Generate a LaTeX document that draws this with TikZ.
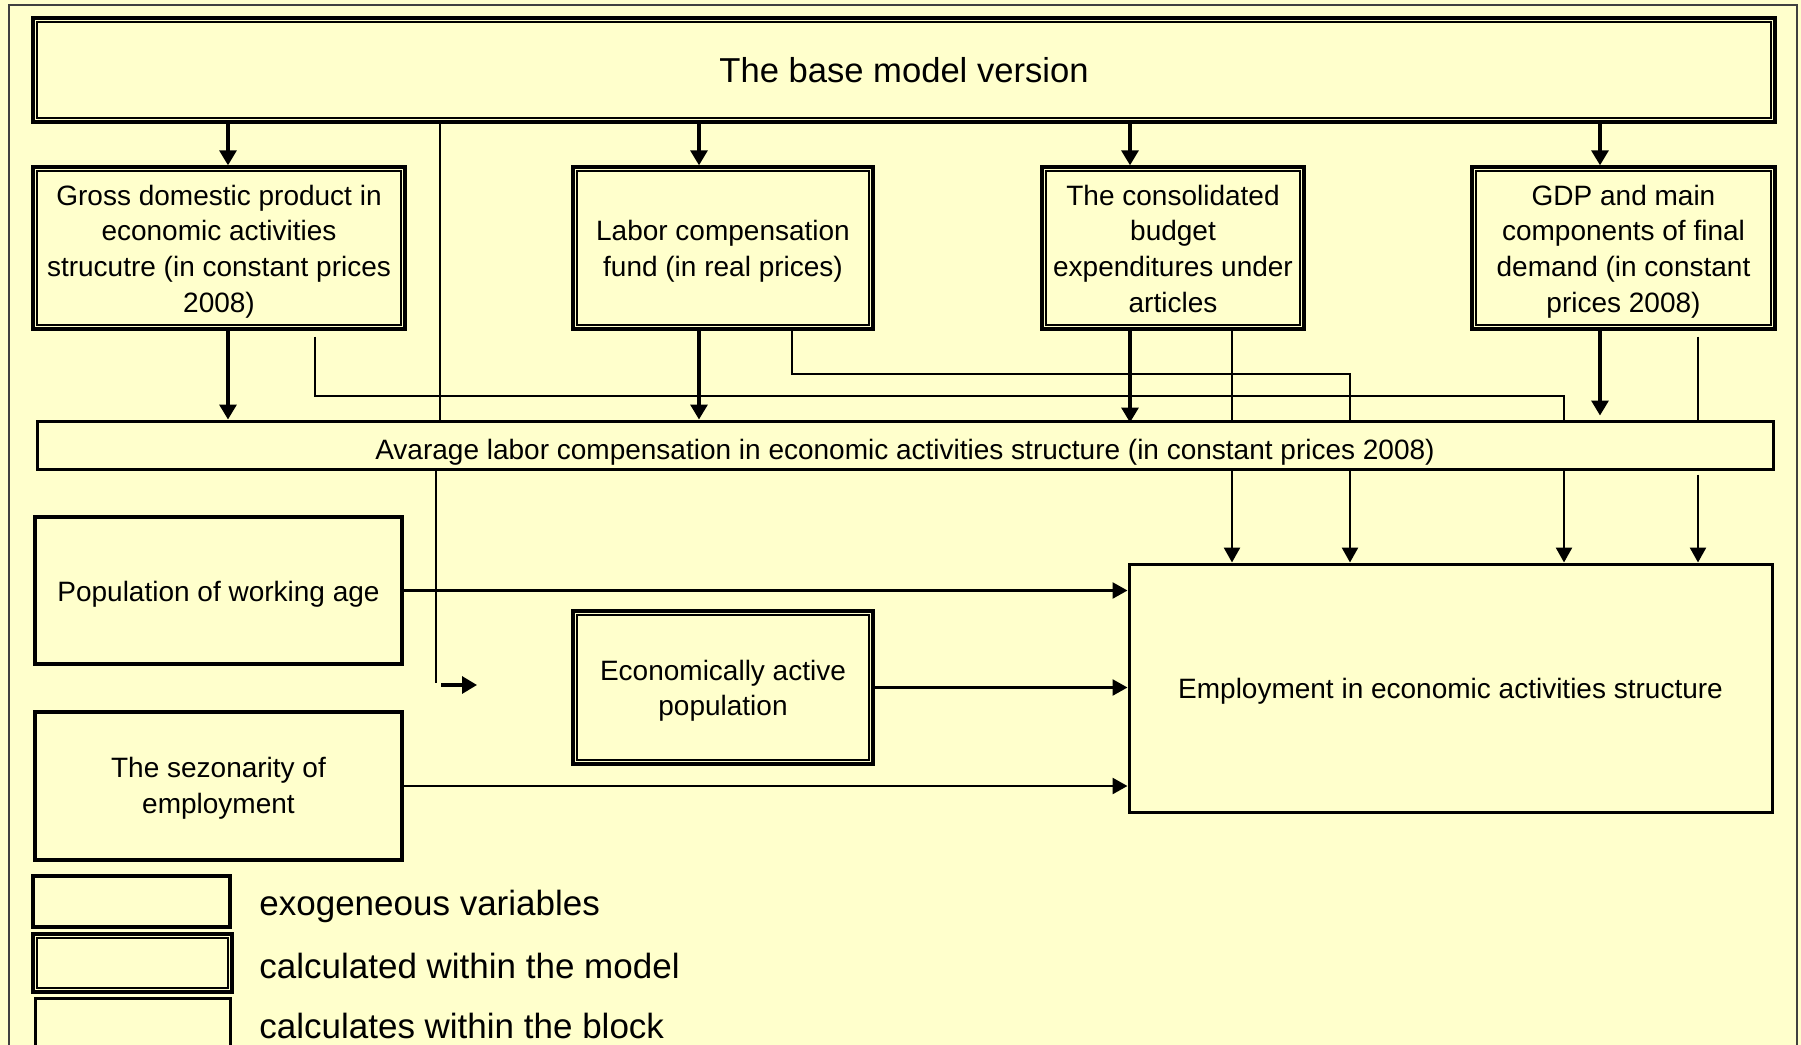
\documentclass[tikz,border=0pt]{standalone}
\usepackage{fontspec}
\setmainfont{Liberation Sans}
\usetikzlibrary{arrows.meta}
\definecolor{bgyellow}{RGB}{255,255,204}
\newcommand\boxfont{\fontsize{14}{17.8}\selectfont}
\newcommand\titlefont{\fontsize{17.3}{20}\selectfont}
\newcommand\legfont{\fontsize{17.5}{21}\selectfont}
\newcommand\lowtext[2]{\raisebox{-#1}[\height][\depth]{\begin{tabular}{@{}c@{}}#2\end{tabular}}}
\tikzset{
  basebox/.style={rectangle, inner sep=0pt, text=black, font=\boxfont},
  exobox/.style={basebox, draw, line width=2pt},
  calcbox/.style={basebox, draw, line width=1.7pt,
    path picture={\draw[line width=1.1pt]
      ([shift={(2pt,-2pt)}]path picture bounding box.north west) rectangle
      ([shift={(-2pt,2pt)}]path picture bounding box.south east);}},
  blockbox/.style={basebox, draw, line width=1.5pt},
  arr/.style={line width=1.6pt, -{Triangle[length=7.5pt,width=8.5pt]}},
  arrb/.style={line width=1.3pt, -{Triangle[length=7.5pt,width=8pt]}},
  link/.style={line width=1pt},
  legtext/.style={anchor=west, inner sep=0pt, font=\legfont},
}
\begin{document}
\begin{tikzpicture}[x=0.5pt,y=-0.5pt]
\useasboundingbox (0,0) rectangle (1801,1045);
\clip (0,0) rectangle (1801,1045);
\fill[bgyellow] (0,0) rectangle (1801,1045);
\draw[line width=1pt, black!75] (9,5) rectangle (1797,1090);

% boxes
\node[calcbox, minimum width=871pt, minimum height=52pt, font=\titlefont] (top) at (904,70) {The base model version};
\node[calcbox, minimum width=186pt, minimum height=81pt] (gdp) at (219,248) {\lowtext{1.75pt}{Gross domestic product in\\economic activities\\strucutre (in constant prices\\2008)}};
\node[calcbox, minimum width=150pt, minimum height=81pt] (labor) at (723,248) {\lowtext{1.75pt}{Labor compensation\\fund (in real prices)}};
\node[calcbox, minimum width=131pt, minimum height=81pt] (cons) at (1173,248) {\lowtext{1.75pt}{The consolidated\\budget\\expenditures under\\articles}};
\node[calcbox, minimum width=151.5pt, minimum height=81pt] (gdpm) at (1623.5,248) {\lowtext{1.75pt}{GDP and main\\components of final\\demand (in constant\\prices 2008)}};
\node[blockbox, minimum width=868pt, minimum height=24pt] (avg) at (905,445) {\lowtext{3.5pt}{Avarage labor compensation in economic activities structure (in constant prices 2008)}};
\node[exobox, minimum width=183.5pt, minimum height=73.5pt] (pop) at (218.5,590.5) {\lowtext{1.75pt}{Population of working age}};
\node[exobox, minimum width=183.5pt, minimum height=74pt] (sez) at (218.5,786) {\lowtext{1.25pt}{The sezonarity of\\employment}};
\node[calcbox, minimum width=150pt, minimum height=76.5pt] (econ) at (723,687.5) {\lowtext{1.75pt}{Economically active\\population}};
\node[blockbox, minimum width=321.5pt, minimum height=124pt] (emp) at (1450.5,688) {\lowtext{1.75pt}{Employment in economic activities structure}};

% legend
\node[exobox, minimum width=98.5pt, minimum height=25.5pt] (l1) at (131.5,901.5) {};
\node[calcbox, minimum width=99.5pt, minimum height=29pt] (l2) at (132.5,963) {};
\node[blockbox, minimum width=97.5pt, minimum height=30pt] (l3) at (132.5,1028) {};
\node[legtext] (t1) at (259,906) {exogeneous variables};
\node[legtext] (t2) at (259,966) {calculated within the model};
\node[legtext] (t3) at (259,1026) {calculates within the block};

% column / row coordinates
\coordinate (cA) at (228,0);
\coordinate (cL) at (699,0);
\coordinate (cC) at (1130,0);
\coordinate (cG) at (1600,0);
\coordinate (cV) at (440,0);
\coordinate (cP) at (315,0);
\coordinate (cQ) at (792,0);
\coordinate (cR) at (1232,0);
\coordinate (cS) at (1350,0);
\coordinate (cT) at (1564,0);
\coordinate (cU) at (1698,0);
\coordinate (cW) at (436,0);
\coordinate (r1) at (0,396);
\coordinate (r2) at (0,374);

% top to second row
\draw[arr] (cA |- top.south) -- (cA |- gdp.north);
\draw[arr] (cL |- top.south) -- (cL |- labor.north);
\draw[arr] (cC |- top.south) -- (cC |- cons.north);
\draw[arr] (cG |- top.south) -- (cG |- gdpm.north);
\draw[link] (cV |- top.south) -- (cV |- avg.north);

% second row to average
\draw[arr] (cA |- gdp.south) -- (cA |- avg.north);
\draw[arr] (cL |- labor.south) -- (cL |- avg.north);
\draw[arr] (cC |- cons.south) -- ([yshift=-1.5pt]cC |- avg.north);
\draw[arr] (cG |- gdpm.south) -- ([yshift=2pt]cG |- avg.north);

% thin lines passing the average box
\draw[link] ([yshift=-3pt]cP |- gdp.south) -- (cP |- r1) -- (cT |- r1) -- (cT |- avg.north);
\draw[link] (cQ |- labor.south) -- (cQ |- r2) -- (cS |- r2) -- (cS |- avg.north);
\draw[link] (cR |- cons.south) -- (cR |- avg.north);
\draw[link] ([yshift=-3pt]cU |- gdpm.south) -- (cU |- avg.north);

% average to employment
\draw[arrb] (cR |- avg.south) -- (cR |- emp.north);
\draw[arrb] (cS |- avg.south) -- (cS |- emp.north);
\draw[arrb] (cT |- avg.south) -- (cT |- emp.north);
\draw[arrb] ([yshift=-2pt]cU |- avg.south) -- (cU |- emp.north);

% left vertical and short arrow
\coordinate (kink) at (436,683);
\coordinate (sa) at (441,685);
\coordinate (sb) at (477,685);
\draw[link] (cW |- avg.south) -- (kink);
\draw[arr] (sa) -- (sb);

% into employment
\draw[arrb] (pop.east) -- (pop.east -| emp.west);
\draw[arrb] (econ.east) -- (econ.east -| emp.west);
\draw[arrb] (sez.east) -- (sez.east -| emp.west);
\end{tikzpicture}
\end{document}
